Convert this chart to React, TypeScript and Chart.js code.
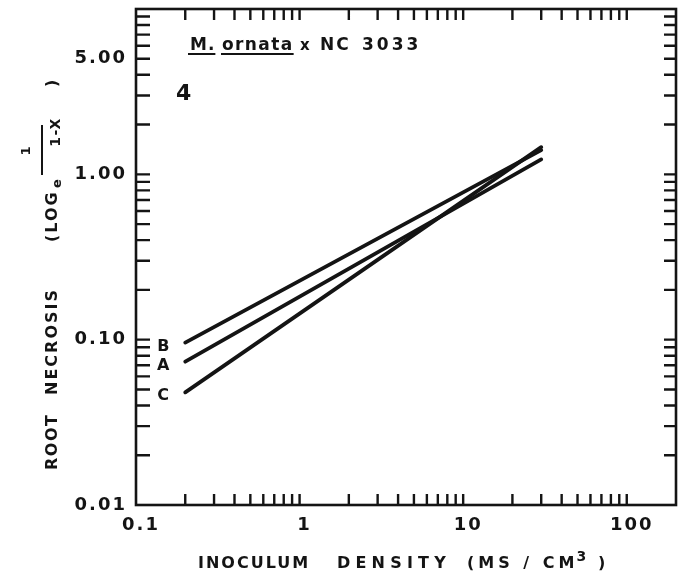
import React, { useEffect, useRef } from 'react';
import { Chart, registerables } from 'chart.js';

Chart.register(...registerables);

// ---- data ----
const densities = [0.2, 30]; // inoculum density (MS/cm3), line end points
const lineB = [0.096, 1.4];
const lineA = [0.0736, 1.23];
const lineC = [0.048, 1.46];
const seriesNames = ['B', 'A', 'C'];

const xTickValues = [
  0.1, 0.2, 0.3, 0.4, 0.5, 0.6, 0.7, 0.8, 0.9,
  1, 2, 3, 4, 5, 6, 7, 8, 9,
  10, 20, 30, 40, 50, 60, 70, 80, 90,
  100,
];
const xLabelValues = [0.1, 1, 10, 100];
const xLabelTexts = ['0.1', '1', '10', '100'];

const yTickValues = [
  0.01, 0.02, 0.03, 0.04, 0.05, 0.06, 0.07, 0.08, 0.09,
  0.1, 0.2, 0.3, 0.4, 0.5, 0.6, 0.7, 0.8, 0.9,
  1, 2, 3, 4, 5, 6, 7, 8, 9,
  10,
];
const yLabelValues = [0.01, 0.1, 1, 5];
const yLabelTexts = ['0.01', '0.10', '1.00', '5.00'];

const FONT = '"DejaVu Sans", "Liberation Sans", sans-serif';
const INK = '#141414';

function labelFor(values: number[], texts: string[], v: number): string {
  const i = values.findIndex((l) => Math.abs(Math.log10(l) - Math.log10(v)) < 1e-6);
  return i >= 0 ? texts[i] : '';
}

function txt(ctx: CanvasRenderingContext2D, s: string, x: number, y: number, size: number, spacing = 0, align: CanvasTextAlign = 'left') {
  ctx.font = `bold ${size}px ${FONT}`;
  (ctx as any).letterSpacing = `${spacing}px`;
  ctx.textAlign = align;
  ctx.textBaseline = 'alphabetic';
  ctx.fillText(s, x, y);
  const w = ctx.measureText(s).width;
  (ctx as any).letterSpacing = '0px';
  return x + w;
}

const paperPlugin = {
  id: 'paper',
  beforeDraw(chart: any) {
    // widen the hand-lettered tick labels a little
    (chart.ctx as any).letterSpacing = '2px';
  },
  beforeDatasetsDraw(chart: any) {
    (chart.ctx as any).letterSpacing = '0px';
  },
  afterDraw(chart: any) {
    const { ctx, chartArea: a, scales } = chart;
    const xs = scales.x;
    const ys = scales.y;
    ctx.save();
    (ctx as any).letterSpacing = '0px';
    ctx.strokeStyle = INK;
    ctx.fillStyle = INK;
    ctx.lineWidth = 2.6;
    ctx.strokeRect(a.left, a.top, a.right - a.left, a.bottom - a.top);

    // inward tick marks on all four sides
    ctx.lineWidth = 2.4;
    ctx.beginPath();
    for (const v of xTickValues) {
      const px = xs.getPixelForValue(v);
      if (px <= a.left + 2 || px >= a.right - 2) continue;
      ctx.moveTo(px, a.bottom);
      ctx.lineTo(px, a.bottom - 11);
      ctx.moveTo(px, a.top);
      ctx.lineTo(px, a.top + 11);
    }
    for (const v of yTickValues) {
      const py = ys.getPixelForValue(v);
      if (py <= a.top + 2 || py >= a.bottom - 2) continue;
      ctx.moveTo(a.left, py);
      ctx.lineTo(a.left + 14, py);
      ctx.moveTo(a.right, py);
      ctx.lineTo(a.right - 12, py);
    }
    ctx.stroke();

    // series letters at the left end of each line
    const series = [lineB, lineA, lineC];
    series.forEach((s, i) => {
      const px = xs.getPixelForValue(densities[0]);
      const py = ys.getPixelForValue(s[0]);
      txt(ctx, seriesNames[i], px - 22, py + 8, 16, 0, 'center');
    });

    // in-plot annotation
    const x1 = txt(ctx, 'M.', 190, 50, 17, 1);
    ctx.fillRect(188, 53, x1 - 188, 2);
    const x2 = txt(ctx, 'ornata', 222, 50, 17, 1.4);
    ctx.fillRect(221, 53, x2 - 221, 2);
    txt(ctx, 'x', 300, 50, 15, 0);
    txt(ctx, 'NC', 320, 50, 17, 2);
    txt(ctx, '3033', 362, 50, 17, 3);
    txt(ctx, '4', 176, 100, 22, 0);

    // x-axis title
    txt(ctx, 'INOCULUM', 198, 568, 16, 2);
    txt(ctx, 'DENSITY', 337, 568, 16, 5.2);
    const e = txt(ctx, '(MS / CM', 467, 568, 16, 4);
    txt(ctx, '3', e - 2, 561, 14, 0);
    txt(ctx, ')', 598, 568, 16, 0);

    // y-axis title (rotated)
    ctx.save();
    ctx.translate(57, 468);
    ctx.rotate(-Math.PI / 2);
    txt(ctx, 'ROOT', -2, 0, 16, 1.5);
    txt(ctx, 'NECROSIS', 73, 0, 16, 2);
    txt(ctx, '(LOG', 226, 0, 16, 2);
    txt(ctx, 'e', 280, 4, 13, 0);
    ctx.fillRect(293, -16, 50, 2);
    txt(ctx, '1', 317, -27, 13, 0, 'center');
    txt(ctx, '1-X', 336, 3, 14, 1.5, 'center');
    txt(ctx, ')', 381, 0, 16, 0);
    ctx.restore();

    ctx.restore();
  },
};

export default function App() {
  const ref = useRef<HTMLCanvasElement | null>(null);

  useEffect(() => {
    if (!ref.current) return;
    const lineStyle = {
      borderColor: INK,
      borderWidth: 3.8,
      borderCapStyle: 'round' as const,
      pointRadius: 0,
      fill: false,
      tension: 0,
    };
    const chart = new Chart(ref.current, {
      type: 'line',
      data: {
        datasets: [
          { label: 'B', data: densities.map((x, i) => ({ x, y: lineB[i] })), ...lineStyle },
          { label: 'A', data: densities.map((x, i) => ({ x, y: lineA[i] })), ...lineStyle },
          { label: 'C', data: densities.map((x, i) => ({ x, y: lineC[i] })), ...lineStyle },
        ],
      },
      options: {
        animation: false,
        responsive: false,
        devicePixelRatio: 1,
        layout: { padding: { left: 0, top: 9, right: 8, bottom: 0 } },
        plugins: { legend: { display: false }, tooltip: { enabled: false }, title: { display: false } },
        scales: {
          x: {
            type: 'logarithmic',
            min: 0.1,
            max: 200,
            afterBuildTicks: (s: any) => {
              s.ticks = xTickValues.map((v) => ({ value: v }));
            },
            afterFit: (s: any) => {
              s.height = 69;
              s.paddingLeft = 0;
              s.paddingRight = 0;
            },
            grid: { display: false, drawTicks: false },
            border: { display: false },
            ticks: {
              autoSkip: false,
              maxRotation: 0,
              padding: 10,
              labelOffset: 5,
              color: INK,
              font: { family: FONT, size: 18, weight: 'bold' },
              callback: (v: any) => labelFor(xLabelValues, xLabelTexts, Number(v)),
            },
          },
          y: {
            type: 'logarithmic',
            min: 0.01,
            max: 10,
            afterBuildTicks: (s: any) => {
              s.ticks = yTickValues.map((v) => ({ value: v }));
            },
            afterFit: (s: any) => {
              s.width = 136;
              s.paddingTop = 0;
              s.paddingBottom = 0;
            },
            grid: { display: false, drawTicks: false },
            border: { display: false },
            ticks: {
              autoSkip: false,
              padding: 9,
              color: INK,
              font: { family: FONT, size: 18, weight: 'bold' },
              callback: (v: any) => labelFor(yLabelValues, yLabelTexts, Number(v)),
            },
          },
        },
      },
      plugins: [paperPlugin],
    } as any);
    return () => chart.destroy();
  }, []);

  return (
    <div style={{ position: 'fixed', left: 0, top: 0, width: 684, height: 574, background: '#fff' }}>
      <canvas ref={ref} width={684} height={574} style={{ display: 'block' }} />
    </div>
  );
}
